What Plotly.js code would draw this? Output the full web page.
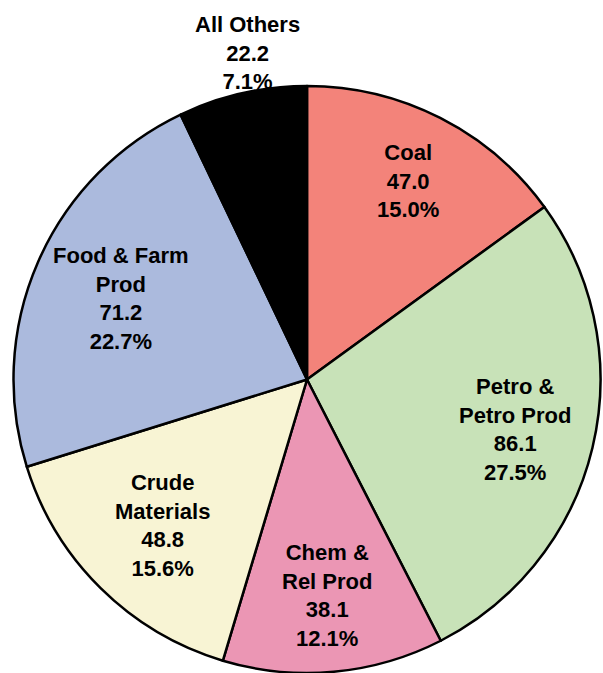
<!DOCTYPE html>
<html>
<head>
<meta charset="utf-8">
<script src="https://cdn.plot.ly/plotly-3.0.1.min.js"></script>
<style>html,body{margin:0;padding:0;background:#fff;}#chart{width:603px;height:673px;}</style>
</head>
<body>
<div id="chart"></div>
<script>
const categories = ["Coal", "Petro &<br>Petro Prod", "Chem &<br>Rel Prod", "Crude<br>Materials", "Food & Farm<br>Prod", "All Others"];
const values = [47.0, 86.1, 38.1, 48.8, 71.2, 22.2];
const valueLabels = ["47.0", "86.1", "38.1", "48.8", "71.2", "22.2"];
const percentLabels = ["15.0%", "27.5%", "12.1%", "15.6%", "22.7%", "7.1%"];
const colors = ["#F3837A", "#C8E2B8", "#EB96B4", "#F8F4D4", "#ABBADD", "#000000"];

const W = 603, H = 673;
const domX = [13 / W, 601 / W];
const domY = [0, 587 / H];
// label distance from centre, as a fraction of the pie radius (layout only)
const labelRadius = [0.76, 0.73, 0.74, 0.70, 0.69, 1.14];

const cx = (domX[0] + domX[1]) / 2 * W;
const cy = H - (domY[0] + domY[1]) / 2 * H;
const R = Math.min((domX[1] - domX[0]) * W, (domY[1] - domY[0]) * H) / 2;
const total = values.reduce((a, b) => a + b, 0);
const annotations = [];
let cum = 0;
values.forEach((v, i) => {
  const mid = (cum + v / 2) / total * 2 * Math.PI;
  cum += v;
  const outside = i === values.length - 1;
  const rf = labelRadius[i];
  const px = cx + rf * R * Math.sin(mid);
  const py = cy - rf * R * Math.cos(mid);
  annotations.push({
    xref: "paper", yref: "paper",
    x: px / W, y: 1 - py / H,
    xanchor: "center", yanchor: "middle",
    xshift: outside ? 14 : 0,
    showarrow: false, align: "center",
    text: [categories[i], valueLabels[i], percentLabels[i]].join("<br>"),
    font: {family: "Liberation Sans, Arial, sans-serif", size: 22, color: "#000", weight: "bold"}
  });
});

const trace = {
  type: "pie",
  labels: categories,
  values: values,
  sort: false,
  direction: "clockwise",
  rotation: 0,
  textinfo: "none",
  hoverinfo: "label+value+percent",
  domain: {x: domX, y: domY},
  marker: {colors: colors, line: {color: "#000", width: 2.5}},
  showlegend: false
};

Plotly.newPlot("chart", [trace], {
  width: W, height: H,
  margin: {l: 0, r: 0, t: 0, b: 0},
  paper_bgcolor: "#fff",
  showlegend: false,
  annotations: annotations
}, {staticPlot: true});
</script>
</body>
</html>
